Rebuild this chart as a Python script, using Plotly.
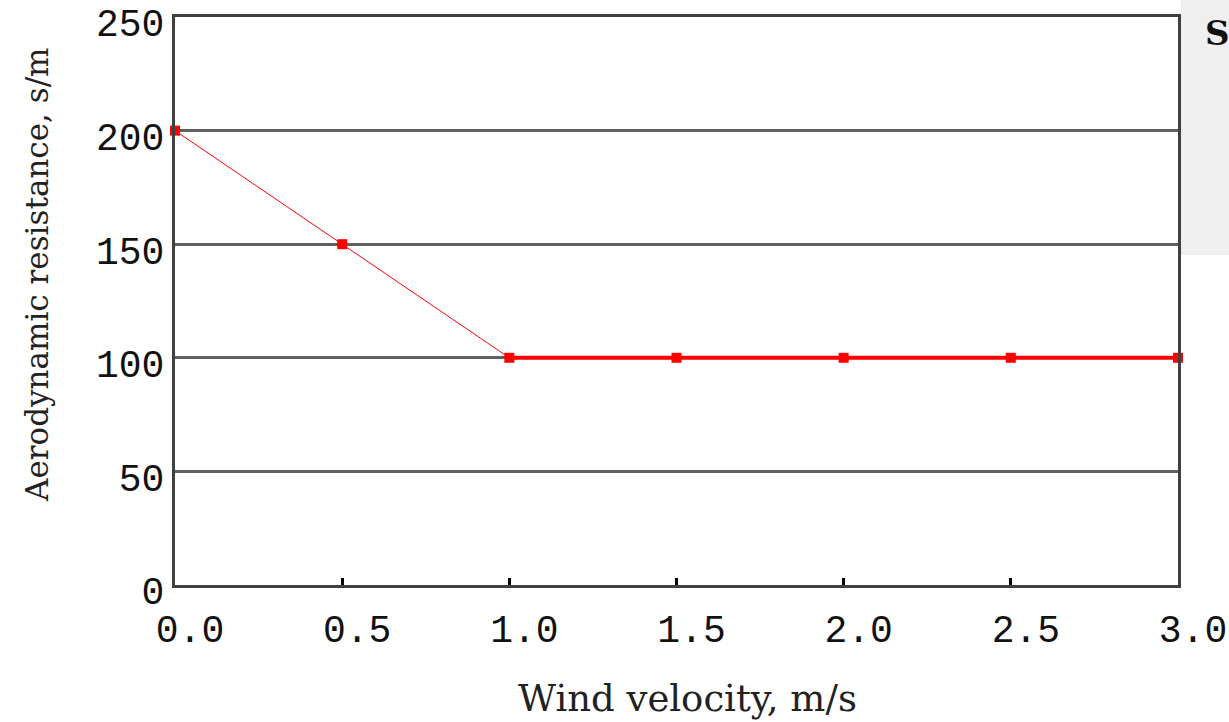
import plotly.graph_objects as go

# Aerodynamic resistance vs wind velocity
wind_velocity = [0.0, 0.5, 1.0, 1.5, 2.0, 2.5, 3.0]
resistance = [200, 150, 100, 100, 100, 100, 100]

x_ticks = [0.0, 0.5, 1.0, 1.5, 2.0, 2.5, 3.0]
x_tick_labels = ["0.0", "0.5", "1.0", "1.5", "2.0", "2.5", "3.0"]
y_ticks = [0, 50, 100, 150, 200, 250]
y_tick_labels = ["0", "50", "100", "150", "200", "250"]

W, H = 1229, 722
M_L, M_R, M_T, M_B = 175, 51, 17, 137
PLOT_W = W - M_L - M_R
PLOT_H = H - M_T - M_B

RED = "#ff0000"
FRAME = "#404040"
GRID = "#606060"
TICK_FONT = dict(family="Liberation Mono, DejaVu Sans Mono, monospace", size=38, color="#111111")
TITLE_FONT = dict(family="DejaVu Serif, Liberation Serif, serif", size=37, color="#222222")

# the falling part of the curve is drawn thin, the plateau thick
split = resistance.index(min(resistance))

fig = go.Figure()
fig.add_trace(go.Scatter(
    x=wind_velocity[:split + 1], y=resistance[:split + 1],
    mode="lines", line=dict(color=RED, width=1), showlegend=False,
))
fig.add_trace(go.Scatter(
    x=wind_velocity[split:], y=resistance[split:],
    mode="lines", line=dict(color=RED, width=4), showlegend=False,
))
fig.add_trace(go.Scatter(
    x=wind_velocity, y=resistance,
    mode="markers", marker=dict(color=RED, symbol="square", size=10, line=dict(width=0)),
    showlegend=False, cliponaxis=False,
))

fig.update_xaxes(
    range=[0, 3], tickvals=x_ticks, ticktext=x_tick_labels,
    showgrid=False, zeroline=False, automargin=False,
    showline=True, mirror=True, linecolor=FRAME, linewidth=3,
    ticks="inside", ticklen=7, tickwidth=3, tickcolor="#000000",
    tickfont=TICK_FONT, ticklabelstandoff=8, ticklabelshift=15,
    ticklabeloverflow="allow",
)
fig.update_yaxes(
    range=[0, 250], tickvals=y_ticks, ticktext=y_tick_labels,
    showgrid=True, gridcolor=GRID, gridwidth=3, zeroline=False, automargin=False,
    showline=True, mirror=True, linecolor=FRAME, linewidth=3,
    ticks="", tickfont=TICK_FONT, ticklabelstandoff=0, ticklabelshift=6,
    ticklabeloverflow="allow",
)

fig.add_annotation(
    text="Wind velocity, m/s", xref="paper", yref="paper",
    x=(687 - M_L) / PLOT_W, y=(H - M_B - 698) / PLOT_H,
    xanchor="center", yanchor="middle",
    showarrow=False, font=TITLE_FONT,
)
fig.add_annotation(
    text="Aerodynamic resistance, s/m", xref="paper", yref="paper",
    x=(37 - M_L) / PLOT_W, y=(H - M_B - 275) / PLOT_H,
    xanchor="center", yanchor="middle", textangle=-90,
    showarrow=False, font=dict(TITLE_FONT, size=31),
)

# legend panel, mostly beyond the right edge of the page
fig.add_shape(
    type="rect", xref="paper", yref="paper",
    x0=(1181 - M_L) / PLOT_W, x1=(W + 10 - M_L) / PLOT_W,
    y0=(H - M_B - 255) / PLOT_H, y1=(H - M_B + 10) / PLOT_H,
    fillcolor="#efefef", line=dict(width=0), layer="below",
)
fig.add_annotation(
    text="<b>S</b>", xref="paper", yref="paper",
    x=(1203 - M_L) / PLOT_W, y=(H - M_B - 33) / PLOT_H,
    xanchor="left", yanchor="middle",
    showarrow=False, font=dict(family="DejaVu Serif, serif", size=34, color="#111111"),
)

fig.update_layout(
    width=W, height=H,
    margin=dict(l=M_L, r=M_R, t=M_T, b=M_B, autoexpand=False),
    paper_bgcolor="white", plot_bgcolor="white",
)

fig.write_html("out.html")
